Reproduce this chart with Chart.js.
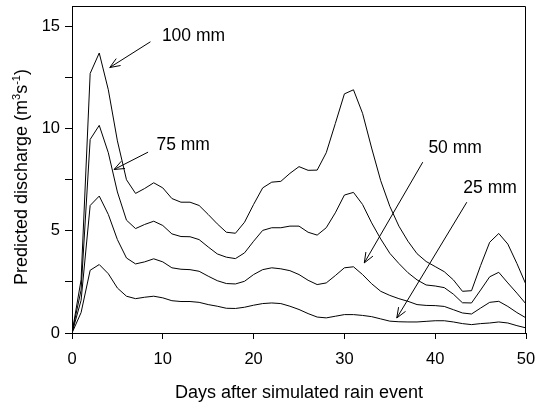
<!DOCTYPE html>
<html>
<head>
<meta charset="utf-8">
<script src="https://cdn.jsdelivr.net/npm/chart.js@4.4.1/dist/chart.umd.min.js"></script>
<style>
  body { margin: 0; background: #fff; }
  #wrap { width: 535px; height: 403px; }
</style>
</head>
<body>
<div id="wrap"><canvas id="chart" width="535" height="403"></canvas></div>
<script>
// days after the rain event
const days = [0, 1, 2, 3, 4, 5, 6, 7, 8, 9, 10, 11, 12, 13, 14, 15, 16, 17, 18, 19, 20,
  21, 22, 23, 24, 25, 26, 27, 28, 29, 30, 31, 32, 33, 34, 35, 36, 37, 38, 39, 40,
  41, 42, 43, 44, 45, 46, 47, 48, 49, 50];

// predicted discharge (m3/s) for each rain amount
const rain100 = [0, 2.6, 12.7, 13.7, 11.9, 9.4, 7.5, 6.83, 7.07, 7.35, 7.1, 6.58, 6.4, 6.4, 6.24, 5.8, 5.34, 4.93, 4.88, 5.42, 6.29,
  7.1, 7.38, 7.42, 7.81, 8.14, 7.96, 7.97, 8.82, 10.25, 11.7, 11.9, 10.75, 9.05, 7.45, 6.2, 5.23, 4.49, 3.88, 3.5, 3.25,
  3.0, 2.6, 2.04, 2.07, 3.3, 4.44, 4.87, 4.35, 3.4, 2.37];
const rain75 = [0, 2.1, 9.47, 10.16, 8.82, 6.9, 5.52, 5.11, 5.31, 5.47, 5.26, 4.85, 4.72, 4.71, 4.57, 4.21, 3.87, 3.71, 3.64, 3.92, 4.49,
  5.02, 5.15, 5.15, 5.23, 5.23, 4.93, 4.79, 5.15, 5.88, 6.75, 6.88, 6.29, 5.39, 4.6, 3.9, 3.4, 2.95, 2.6, 2.35, 2.3,
  2.22, 1.9, 1.48, 1.47, 2.1, 2.75, 2.97, 2.45, 1.95, 1.42];
const rain50 = [0, 1.6, 6.24, 6.7, 5.8, 4.57, 3.67, 3.38, 3.48, 3.63, 3.48, 3.19, 3.12, 3.1, 3.02, 2.78, 2.56, 2.42, 2.4, 2.53, 2.86,
  3.1, 3.19, 3.14, 3.05, 2.86, 2.58, 2.37, 2.45, 2.81, 3.19, 3.24, 2.86, 2.41, 2.04, 1.84, 1.68, 1.55, 1.39, 1.35, 1.34,
  1.3, 1.14, 0.98, 0.93, 1.22, 1.5, 1.55, 1.3, 1.0, 0.74];
const rain25 = [0, 1.0, 3.07, 3.35, 2.9, 2.2, 1.8, 1.68, 1.75, 1.8, 1.72, 1.58, 1.54, 1.54, 1.5, 1.39, 1.31, 1.21, 1.2, 1.26, 1.36,
  1.44, 1.47, 1.44, 1.31, 1.15, 0.95, 0.78, 0.74, 0.82, 0.9, 0.9, 0.86, 0.8, 0.69, 0.58, 0.55, 0.54, 0.54, 0.57, 0.6,
  0.6, 0.54, 0.46, 0.41, 0.46, 0.49, 0.54, 0.49, 0.36, 0.25];

const seriesNames = ['100 mm', '75 mm', '50 mm', '25 mm'];

// label + arrow placement, in data units (days, discharge)
const labelX = [9.9, 9.3, 39.25, 43.1];
const labelY = [14.5, 9.18, 9.06, 7.07];
const arrowFromX = [8.64, 8.38, 38.63, 43.48];
const arrowFromY = [14.25, 8.85, 8.36, 6.4];
const arrowToX = [4.16, 4.63, 32.19, 35.77];
const arrowToY = [12.99, 8.0, 3.43, 0.735];

const FONT = '"Liberation Sans", Arial, Helvetica, sans-serif';

function pts(vals) {
  return days.map((d, i) => ({ x: d, y: vals[i] }));
}

const extras = {
  id: 'extras',
  afterDraw(chart) {
    const ctx = chart.ctx;
    const area = chart.chartArea;
    const sx = chart.scales.x, sy = chart.scales.y;
    ctx.save();

    // top and right frame
    ctx.strokeStyle = '#000';
    ctx.lineWidth = 1;
    ctx.beginPath();
    ctx.moveTo(Math.round(area.left) + 0.5, Math.round(area.top) + 0.5);
    ctx.lineTo(Math.round(area.right) - 0.5, Math.round(area.top) + 0.5);
    ctx.lineTo(Math.round(area.right) - 0.5, Math.round(area.bottom));
    ctx.stroke();

    ctx.fillStyle = '#000';

    // x title
    ctx.font = '18px ' + FONT;
    ctx.textAlign = 'center';
    ctx.textBaseline = 'alphabetic';
    ctx.fillText('Days after simulated rain event', (area.left + area.right) / 2, 398);

    // y title with superscripts
    const parts = [['Predicted discharge (m', false], ['3', true], ['s', false], ['-1', true], [')', false]];
    const big = '18px ' + FONT, small = '11px ' + FONT;
    let total = 0;
    parts.forEach(p => { ctx.font = p[1] ? small : big; total += ctx.measureText(p[0]).width; });
    ctx.translate(27, 177);
    ctx.rotate(-Math.PI / 2);
    ctx.textAlign = 'left';
    let cx = -total / 2;
    parts.forEach(p => {
      ctx.font = p[1] ? small : big;
      ctx.fillText(p[0], cx, p[1] ? -7 : 0);
      cx += ctx.measureText(p[0]).width;
    });
    ctx.setTransform(1, 0, 0, 1, 0, 0);

    // series labels and arrows
    ctx.font = '17.5px ' + FONT;
    ctx.textAlign = 'left';
    ctx.textBaseline = 'middle';
    seriesNames.forEach((name, i) => {
      ctx.fillText(name, sx.getPixelForValue(labelX[i]), sy.getPixelForValue(labelY[i]));
      const x1 = sx.getPixelForValue(arrowFromX[i]), y1 = sy.getPixelForValue(arrowFromY[i]);
      const x2 = sx.getPixelForValue(arrowToX[i]), y2 = sy.getPixelForValue(arrowToY[i]);
      const ang = Math.atan2(y2 - y1, x2 - x1);
      const head = 11, spread = 0.38;
      ctx.beginPath();
      ctx.moveTo(x1, y1);
      ctx.lineTo(x2, y2);
      ctx.moveTo(x2 - head * Math.cos(ang - spread), y2 - head * Math.sin(ang - spread));
      ctx.lineTo(x2, y2);
      ctx.lineTo(x2 - head * Math.cos(ang + spread), y2 - head * Math.sin(ang + spread));
      ctx.stroke();
    });
    ctx.restore();
  }
};

const lineStyle = { borderColor: '#000', borderWidth: 1, pointRadius: 0, fill: false, tension: 0 };

new Chart(document.getElementById('chart'), {
  type: 'line',
  data: {
    datasets: [
      { label: seriesNames[0], data: pts(rain100), ...lineStyle },
      { label: seriesNames[1], data: pts(rain75), ...lineStyle },
      { label: seriesNames[2], data: pts(rain50), ...lineStyle },
      { label: seriesNames[3], data: pts(rain25), ...lineStyle }
    ]
  },
  options: {
    responsive: false,
    animation: false,
    devicePixelRatio: 1,
    layout: { padding: { left: 0, top: 6, right: 9, bottom: 0 } },
    plugins: {
      legend: { display: false },
      tooltip: { enabled: false }
    },
    scales: {
      x: {
        type: 'linear',
        min: 0,
        max: 50,
        afterFit: s => { s.height = 70; s.paddingLeft = 0; s.paddingRight = 0; },
        grid: { drawOnChartArea: false, tickLength: 6, color: '#000' },
        border: { color: '#000' },
        ticks: { stepSize: 10, color: '#000', padding: 11, maxRotation: 0, font: { family: FONT, size: 16.5 } }
      },
      y: {
        min: 0,
        max: 16,
        afterFit: s => { s.width = 72; s.paddingTop = 0; s.paddingBottom = 0; },
        grid: { drawOnChartArea: false, tickLength: 7, color: '#000' },
        border: { color: '#000' },
        ticks: {
          stepSize: 2.5,
          includeBounds: false,
          color: '#000',
          padding: 5,
          font: { family: FONT, size: 16.5 },
          callback: v => (v % 5 === 0 ? v : '')
        }
      }
    }
  },
  plugins: [extras]
});
</script>
</body>
</html>
